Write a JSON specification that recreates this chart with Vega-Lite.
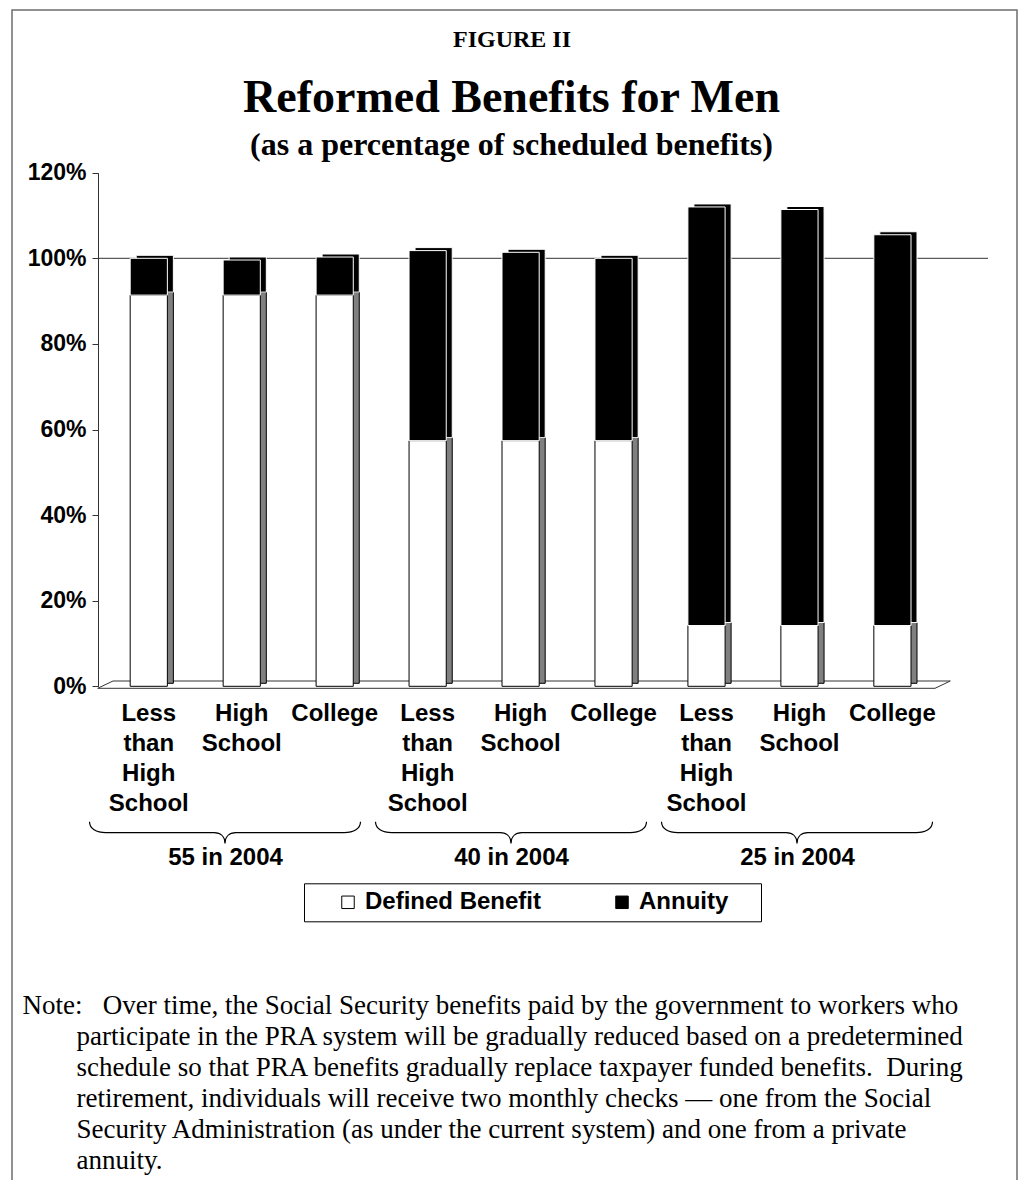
{
  "$schema": "https://vega.github.io/schema/vega-lite/v6.json",
  "width": 1005,
  "height": 1170,
  "autosize": {"type": "none"},
  "padding": {"left": 12, "top": 10, "right": 6, "bottom": 0},
  "background": "white",
  "config": {
    "view": {"stroke": "#6e6e6e", "strokeWidth": 1.5, "strokeDash": [2175, 1005]}
  },
  "title": {
    "text": "Reformed Benefits for Men",
    "subtitle": "(as a percentage of scheduled benefits)",
    "anchor": "middle",
    "frame": "group",
    "offset": -152,
    "dx": -3,
    "font": "Liberation Serif",
    "fontSize": 46,
    "fontWeight": "bold",
    "color": "black",
    "subtitleFont": "Liberation Serif",
    "subtitleFontSize": 32,
    "subtitleFontWeight": "bold",
    "subtitleColor": "black",
    "subtitlePadding": 8
  },
  "datasets": {
    "benefits": [
      {"cohort": "55 in 2004", "bar": "55 in 2004: Less than High School", "series": "Defined Benefit", "value": 91.4},
      {"cohort": "55 in 2004", "bar": "55 in 2004: Less than High School", "series": "Annuity", "value": 8.6},
      {"cohort": "55 in 2004", "bar": "55 in 2004: High School", "series": "Defined Benefit", "value": 91.4},
      {"cohort": "55 in 2004", "bar": "55 in 2004: High School", "series": "Annuity", "value": 8.2},
      {"cohort": "55 in 2004", "bar": "55 in 2004: College", "series": "Defined Benefit", "value": 91.4},
      {"cohort": "55 in 2004", "bar": "55 in 2004: College", "series": "Annuity", "value": 8.9},
      {"cohort": "40 in 2004", "bar": "40 in 2004: Less than High School", "series": "Defined Benefit", "value": 57.4},
      {"cohort": "40 in 2004", "bar": "40 in 2004: Less than High School", "series": "Annuity", "value": 44.4},
      {"cohort": "40 in 2004", "bar": "40 in 2004: High School", "series": "Defined Benefit", "value": 57.4},
      {"cohort": "40 in 2004", "bar": "40 in 2004: High School", "series": "Annuity", "value": 44.0},
      {"cohort": "40 in 2004", "bar": "40 in 2004: College", "series": "Defined Benefit", "value": 57.4},
      {"cohort": "40 in 2004", "bar": "40 in 2004: College", "series": "Annuity", "value": 42.6},
      {"cohort": "25 in 2004", "bar": "25 in 2004: Less than High School", "series": "Defined Benefit", "value": 14.2},
      {"cohort": "25 in 2004", "bar": "25 in 2004: Less than High School", "series": "Annuity", "value": 97.8},
      {"cohort": "25 in 2004", "bar": "25 in 2004: High School", "series": "Defined Benefit", "value": 14.2},
      {"cohort": "25 in 2004", "bar": "25 in 2004: High School", "series": "Annuity", "value": 97.2},
      {"cohort": "25 in 2004", "bar": "25 in 2004: College", "series": "Defined Benefit", "value": 14.2},
      {"cohort": "25 in 2004", "bar": "25 in 2004: College", "series": "Annuity", "value": 91.3}
    ],
    "cohorts": [
      {"cohort": "55 in 2004"},
      {"cohort": "40 in 2004"},
      {"cohort": "25 in 2004"}
    ]
  },
  "layer": [
    {
      "data": {"values": [{}]},
      "mark": {"type": "rule", "color": "#333333", "strokeWidth": 1, "x2Offset": 53},
      "encoding": {
        "x": {"datum": 0, "type": "quantitative", "scale": {"domain": [0, 1], "range": [85.7, 923]}, "axis": null},
        "x2": {"datum": 1},
        "y": {"datum": 100, "type": "quantitative", "scale": {"domain": [0, 120], "range": [676.3, 162.7], "nice": false}, "axis": null}
      }
    },
    {
      "data": {"values": [{}]},
      "mark": {"type": "rule", "color": "#333333", "strokeWidth": 1, "yOffset": 2},
      "encoding": {
        "x": {"datum": 0, "type": "quantitative", "scale": {"domain": [0, 1], "range": [85.7, 923]}, "axis": null},
        "x2": {"datum": 1},
        "y": {"datum": 0, "type": "quantitative", "scale": {"domain": [0, 120], "range": [676.3, 162.7], "nice": false}, "axis": null}
      }
    },
    {
      "data": {"values": [{}]},
      "mark": {"type": "rule", "color": "#333333", "strokeWidth": 1, "xOffset": 15.3, "x2Offset": 15.3, "yOffset": -5.3},
      "encoding": {
        "x": {"datum": 0, "type": "quantitative", "scale": {"domain": [0, 1], "range": [85.7, 923]}, "axis": null},
        "x2": {"datum": 1},
        "y": {"datum": 0, "type": "quantitative", "scale": {"domain": [0, 120], "range": [676.3, 162.7], "nice": false}, "axis": null}
      }
    },
    {
      "data": {"values": [{}]},
      "mark": {"type": "rule", "color": "#333333", "strokeWidth": 1, "x2Offset": 15.3, "yOffset": 2, "y2Offset": -5.3},
      "encoding": {
        "x": {"datum": 0, "type": "quantitative", "scale": {"domain": [0, 1], "range": [85.7, 923]}, "axis": null},
        "x2": {"datum": 0},
        "y": {"datum": 0, "type": "quantitative", "scale": {"domain": [0, 120], "range": [676.3, 162.7], "nice": false}, "axis": null},
        "y2": {"datum": 0}
      }
    },
    {
      "data": {"values": [{}]},
      "mark": {"type": "rule", "color": "#333333", "strokeWidth": 1, "x2Offset": 15.3, "yOffset": 2, "y2Offset": -5.3},
      "encoding": {
        "x": {"datum": 1, "type": "quantitative", "scale": {"domain": [0, 1], "range": [85.7, 923]}, "axis": null},
        "x2": {"datum": 1},
        "y": {"datum": 0, "type": "quantitative", "scale": {"domain": [0, 120], "range": [676.3, 162.7], "nice": false}, "axis": null},
        "y2": {"datum": 0}
      }
    },
    {
      "data": {"name": "benefits"},
      "mark": {"type": "bar", "xOffset": 6, "yOffset": -3, "strokeWidth": 1},
      "encoding": {
        "x": {"field": "bar", "type": "nominal", "sort": null, "axis": null,
              "scale": {"range": [90.3, 926.9], "paddingInner": 0.6, "paddingOuter": 0.3}},
        "y": {"field": "value", "type": "quantitative", "stack": "zero", "axis": null,
              "scale": {"domain": [0, 120], "range": [676.3, 162.7], "nice": false}},
        "fill": {"field": "series", "type": "nominal", "legend": null,
                 "scale": {"domain": ["Defined Benefit", "Annuity"], "range": ["#808080", "#000000"]}},
        "stroke": {"field": "series", "type": "nominal", "legend": null,
                   "scale": {"domain": ["Defined Benefit", "Annuity"], "range": ["#000000", "#ffffff"]}},
        "order": {"field": "series", "sort": "descending"}
      }
    },
    {
      "data": {"name": "benefits"},
      "mark": {"type": "bar", "strokeWidth": 1},
      "encoding": {
        "x": {"field": "bar", "type": "nominal", "sort": null,
              "scale": {"range": [90.3, 926.9], "paddingInner": 0.6, "paddingOuter": 0.3},
              "axis": {
                "orient": "bottom", "offset": -493.7, "domain": false, "ticks": false, "tickSize": 0,
                "labelPadding": 15, "labelAngle": 0, "labelOverlap": false, "labelBound": false, "labelLimit": 300,
                "labelFont": "Liberation Sans", "labelFontWeight": "bold", "labelFontSize": 24,
                "labelColor": "black", "labelLineHeight": 30,
                "labelExpr": "split(split(datum.value, ': ')[1], ' ')",
                "title": null
              }},
        "y": {"field": "value", "type": "quantitative", "stack": "zero",
              "scale": {"domain": [0, 120], "range": [676.3, 162.7], "nice": false},
              "axis": {
                "orient": "left", "offset": -86, "values": [0, 20, 40, 60, 80, 100, 120],
                "labelExpr": "datum.value + '%'", "grid": false,
                "domainColor": "#333333", "tickColor": "#333333", "tickSize": 6, "labelPadding": 6,
                "labelFont": "Liberation Sans", "labelFontWeight": "bold", "labelFontSize": 23, "labelColor": "black",
                "title": "FIGURE II", "titleAngle": 0, "titleX": 413.5, "titleY": 36.7,
                "titleAlign": "center", "titleBaseline": "alphabetic",
                "titleFont": "Liberation Serif", "titleFontSize": 24, "titleFontWeight": "bold", "titleColor": "black"
              }},
        "color": {"field": "series", "type": "nominal",
                  "scale": {"domain": ["Defined Benefit", "Annuity"], "range": ["#ffffff", "#000000"]},
                  "legend": {
                    "orient": "none", "legendX": 292, "legendY": 873.3, "direction": "horizontal", "columns": 2,
                    "columnPadding": 68, "padding": 7, "strokeColor": "#000000", "fillColor": "#ffffff",
                    "symbolType": "square", "symbolSize": 156, "symbolStrokeColor": "#000000", "symbolStrokeWidth": 1,
                    "labelOffset": 5, "labelFont": "Liberation Sans", "labelFontWeight": "bold", "labelFontSize": 24,
                    "labelColor": "black", "labelLimit": 300,
                    "labelExpr": "datum.label === 'Annuity' ? 'Annuity\u00a0\u00a0\u00a0\u2009\u200b' : datum.label",
                    "title": "\u00a0", "titleOrient": "left", "titlePadding": 25, "titleFontSize": 24,
                    "encode": {"symbols": {"update": {"stroke": {"value": "#000000"}, "strokeWidth": {"value": 1}}}}
                  }},
        "stroke": {"field": "series", "type": "nominal", "legend": null,
                   "scale": {"domain": ["Defined Benefit", "Annuity"], "range": ["#000000", "#ffffff"]}},
        "order": {"field": "series", "sort": "descending"}
      }
    },
    {
      "data": {"name": "cohorts"},
      "mark": {
        "type": "point",
        "shape": "M-1,-0.08 C-1,-0.03 -0.95,0 -0.88,0 L-0.08,0 C-0.03,0 0,0.03 0,0.08 C0,0.03 0.03,0 0.08,0 L0.88,0 C0.95,0 1,-0.03 1,-0.08",
        "size": 73441, "filled": false, "stroke": "#000000", "strokeWidth": 1.2, "opacity": 1
      },
      "encoding": {
        "x": {"field": "cohort", "type": "nominal", "sort": null,
              "scale": {"range": [70, 928], "paddingInner": 0, "paddingOuter": 0},
              "axis": {
                "orient": "bottom", "offset": -335, "domain": false, "ticks": false, "tickSize": 0,
                "labelPadding": 0, "labelAngle": 0, "labelOverlap": false, "labelBound": false,
                "labelFont": "Liberation Sans", "labelFontWeight": "bold", "labelFontSize": 24, "labelColor": "black",
                "title": [
                  "Note:\u00a0\u00a0 Over time, the Social Security benefits paid by the government to workers who",
                  "\u200b\u00a0\u00a0\u00a0\u00a0\u00a0\u00a0\u00a0\u00a0participate in the PRA system will be gradually reduced based on a predetermined",
                  "\u200b\u00a0\u00a0\u00a0\u00a0\u00a0\u00a0\u00a0\u00a0schedule so that PRA benefits gradually replace taxpayer funded benefits.\u00a0 During",
                  "\u200b\u00a0\u00a0\u00a0\u00a0\u00a0\u00a0\u00a0\u00a0retirement, individuals will receive two monthly checks \u2014 one from the Social",
                  "\u200b\u00a0\u00a0\u00a0\u00a0\u00a0\u00a0\u00a0\u00a0Security Administration (as under the current system) and one from a private",
                  "\u200b\u00a0\u00a0\u00a0\u00a0\u00a0\u00a0\u00a0\u00a0annuity."
                ],
                "titleX": 10, "titleY": 168, "titleAlign": "left", "titleAnchor": "start", "titleBaseline": "alphabetic",
                "titleFont": "Liberation Serif", "titleFontSize": 27, "titleFontWeight": "normal", "titleColor": "black",
                "titleLineHeight": 31, "titleLimit": 3000
              }},
        "y": {"datum": -34.2, "type": "quantitative", "axis": null,
              "scale": {"domain": [0, 120], "range": [676.3, 162.7], "nice": false}}
      }
    }
  ],
  "resolve": {
    "scale": {"x": "independent"},
    "axis": {"x": "independent", "y": "independent"},
    "legend": {"color": "independent"}
  }
}
